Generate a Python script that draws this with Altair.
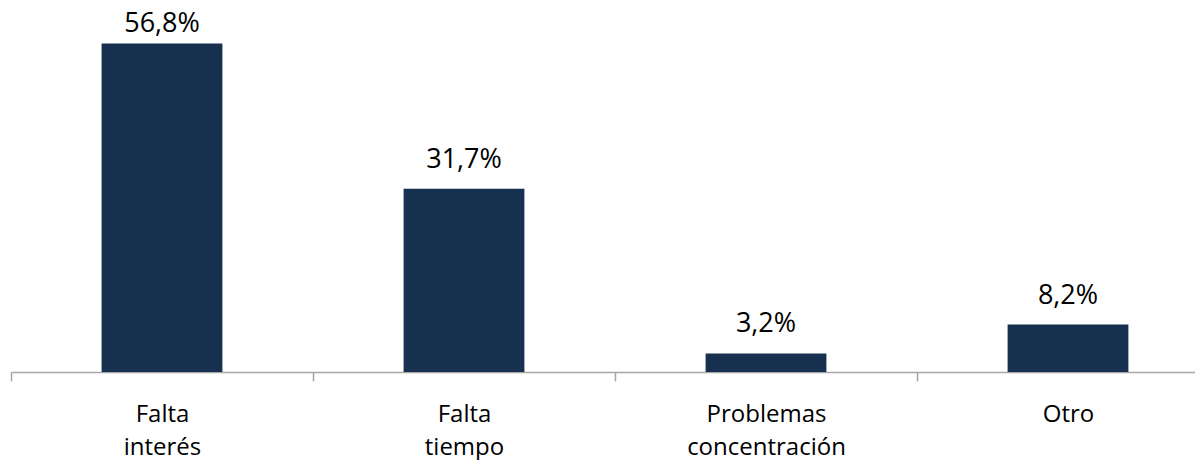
import altair as alt
import pandas as pd

categories = ["Falta interés", "Falta tiempo", "Problemas concentración", "Otro"]
values = [56.8, 31.7, 3.2, 8.2]

df = pd.DataFrame({"cat": categories, "value": values})

FONT = "Open Sans"

x_enc = alt.X(
    "cat:N",
    sort=categories,
    title=None,
    scale=alt.Scale(paddingInner=0, paddingOuter=0, range=[0, 1208]),
    axis=alt.Axis(
        labelAngle=0,
        labelExpr="split(datum.label, ' ')",
        labelFont=FONT,
        labelFontSize=24,
        labelColor="#000000",
        labelLineHeight=33,
        labelPadding=40,
        labelBaseline="alphabetic",
        domainColor="#a6a6a6",
        domainWidth=1.5,
        tickColor="#a6a6a6",
        tickWidth=1.5,
        tickSize=9,
        tickBand="extent",
        grid=False,
    ),
)

base = alt.Chart(df)

bars = base.mark_bar(color="#17304f", width=alt.RelativeBandSize(0.4)).encode(
    x=x_enc,
    y=alt.Y("value:Q", scale=alt.Scale(domain=[0, 60], nice=False), axis=None),
)

labels = base.transform_calculate(
    lbl="replace(format(datum.value, '.1f'), '.', ',') + '%'",
    lpos="min(datum.value, 55.1)",
).mark_text(
    dy=-21, baseline="alphabetic", font=FONT, fontSize=27, color="#000000"
).encode(
    x=alt.X("cat:N", sort=categories),
    y=alt.Y("lpos:Q"),
    text="lbl:N",
)

chart = (
    alt.layer(bars, labels)
    .properties(
        width=1184,
        height=347,
        padding={"left": 3, "top": 17, "right": 0, "bottom": 88},
        autosize=alt.AutoSizeParams(type="none"),
        background="#ffffff",
    )
    .configure_view(strokeWidth=0, stroke="transparent")
)

chart.save("out.html", embed_options={"renderer": "svg", "actions": False})
